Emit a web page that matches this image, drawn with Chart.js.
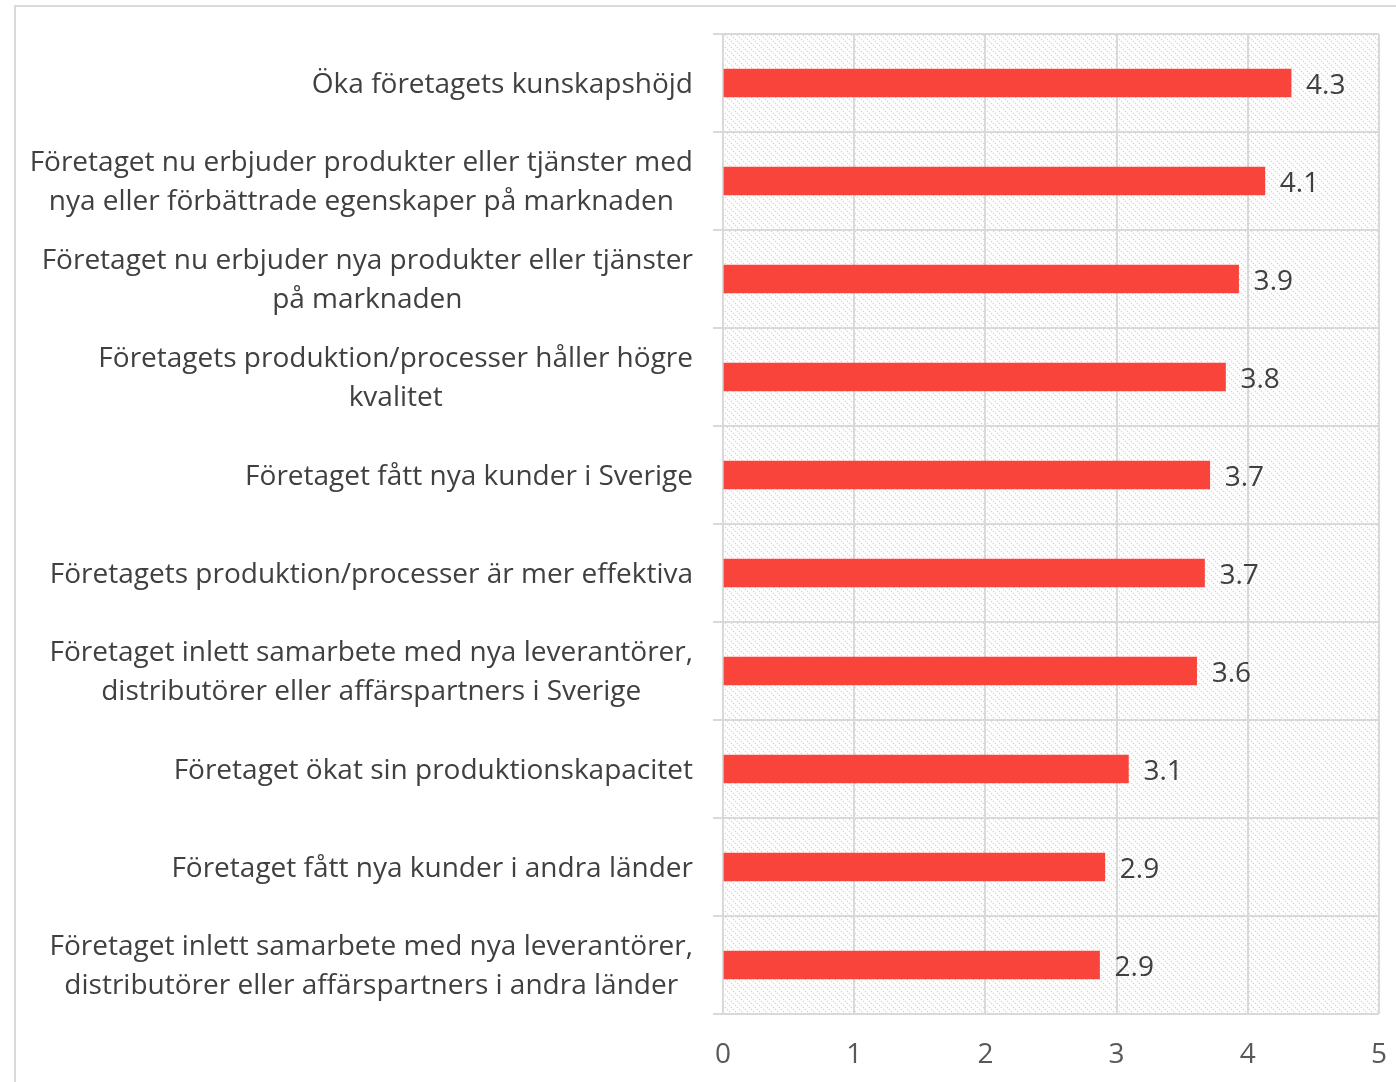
<!DOCTYPE html>
<html>
<head>
<meta charset="utf-8">
<script src="https://cdn.jsdelivr.net/npm/chart.js@4.4.1/dist/chart.umd.min.js"></script>
<style>
html,body{margin:0;padding:0;background:#fff;overflow:hidden;}
#ram{position:absolute;left:14px;top:5px;width:1400px;height:1100px;border:2px solid #d9d9d9;box-sizing:border-box;}
#wrap{position:absolute;left:0;top:0;width:1396px;height:1082px;}
</style>
</head>
<body>
<div id="ram"></div>
<div id="wrap"><canvas id="graf"></canvas></div>
<script>

// kategorier och medelvärden
let kategorier=[
["Öka företagets kunskapshöjd"],
["Företaget nu erbjuder produkter eller tjänster med","nya eller förbättrade egenskaper på marknaden"],
["Företaget nu erbjuder nya produkter eller tjänster","på marknaden"],
["Företagets produktion/processer håller högre","kvalitet"],
["Företaget fått nya kunder i Sverige"],
["Företagets produktion/processer är mer effektiva"],
["Företaget inlett samarbete med nya leverantörer,","distributörer eller affärspartners i Sverige"],
["Företaget ökat sin produktionskapacitet"],
["Företaget fått nya kunder i andra länder"],
["Företaget inlett samarbete med nya leverantörer,","distributörer eller affärspartners i andra länder"]
];

let varden=[4.33,4.13,3.93,3.83,3.71,3.67,3.61,3.09,2.91,2.87];

let axelTicks=[0,1,2,3,4,5];

let typsnitt="28px 'Open Sans'";


// snedstreckat mönster för plottytan
function skapaMonster(){
let c=document.createElement("canvas");
c.width=6;c.height=6;
let g=c.getContext("2d");
g.strokeStyle="#d4d4d4";
g.lineWidth=1.1;
g.setLineDash([1.5,1.3]);
g.beginPath();
g.moveTo(-1,-1);g.lineTo(7,7);
g.moveTo(-1,5);g.lineTo(1,7);
g.moveTo(5,-1);g.lineTo(7,1);
g.stroke();
return g.createPattern(c,"repeat");
}

let bakgrund={
id:"bakgrund",
beforeDraw(chart){
let a=chart.chartArea,ctx=chart.ctx;
ctx.save();
ctx.fillStyle=skapaMonster();
ctx.fillRect(a.left,a.top,a.right-a.left,a.bottom-a.top);
ctx.restore();
}
};

// kategoritexter: blocket högerställt mot axeln, raderna centrerade
let kategoriText={
id:"kategoriText",
afterDraw(chart){
let ctx=chart.ctx,y=chart.scales.y;
ctx.save();
ctx.font=typsnitt;
ctx.fillStyle="#404040";
ctx.textAlign="center";
ctx.textBaseline="middle";
kategorier.forEach((rader,i)=>{
let mitt=y.getPixelForValue(i)+2;
let bredd=Math.max(...rader.map(r=>ctx.measureText(r).width));
let cx=693-bredd/2;
let start=mitt-(rader.length-1)*39/2;
rader.forEach((r,j)=>ctx.fillText(r,cx,start+j*39));
});
ctx.restore();
}
};

let etiketter={
id:"etiketter",
afterDatasetsDraw(chart){
let ctx=chart.ctx;
ctx.save();
ctx.font=typsnitt;
ctx.fillStyle="#404040";
ctx.textAlign="left";
ctx.textBaseline="middle";
chart.getDatasetMeta(0).data.forEach((bar,i)=>{
ctx.fillText(varden[i].toFixed(1),bar.x+15,bar.y+3);
});
ctx.restore();
}
};

new Chart(document.getElementById("graf"),{
type:"bar",
data:{
labels:kategorier,
datasets:[{
data:varden,
backgroundColor:"#F9443B",
barThickness:28
}]
},
options:{
indexAxis:"y",
responsive:true,
maintainAspectRatio:false,
animation:false,
layout:{padding:{top:34,right:17,left:0,bottom:0}},
plugins:{legend:{display:false},tooltip:{enabled:false}},
scales:{
x:{
min:0,max:5,
afterBuildTicks(s){s.ticks=axelTicks.map(v=>({value:v}));},
afterFit(s){s.height=68;s.paddingRight=0;s.paddingLeft=0;},
grid:{color:"#d9d9d9",lineWidth:2,drawTicks:false},
border:{display:false},
ticks:{padding:24,color:"#595959",font:{family:"Open Sans",size:28}}
},
y:{
afterFit(s){s.width=723;},
grid:{color:"#d9d9d9",lineWidth:2,offset:true,tickLength:10},
border:{display:true,color:"#d9d9d9",width:2},
ticks:{display:false}
}
}
},
plugins:[bakgrund,etiketter,kategoriText]
});

</script>
</body>
</html>
